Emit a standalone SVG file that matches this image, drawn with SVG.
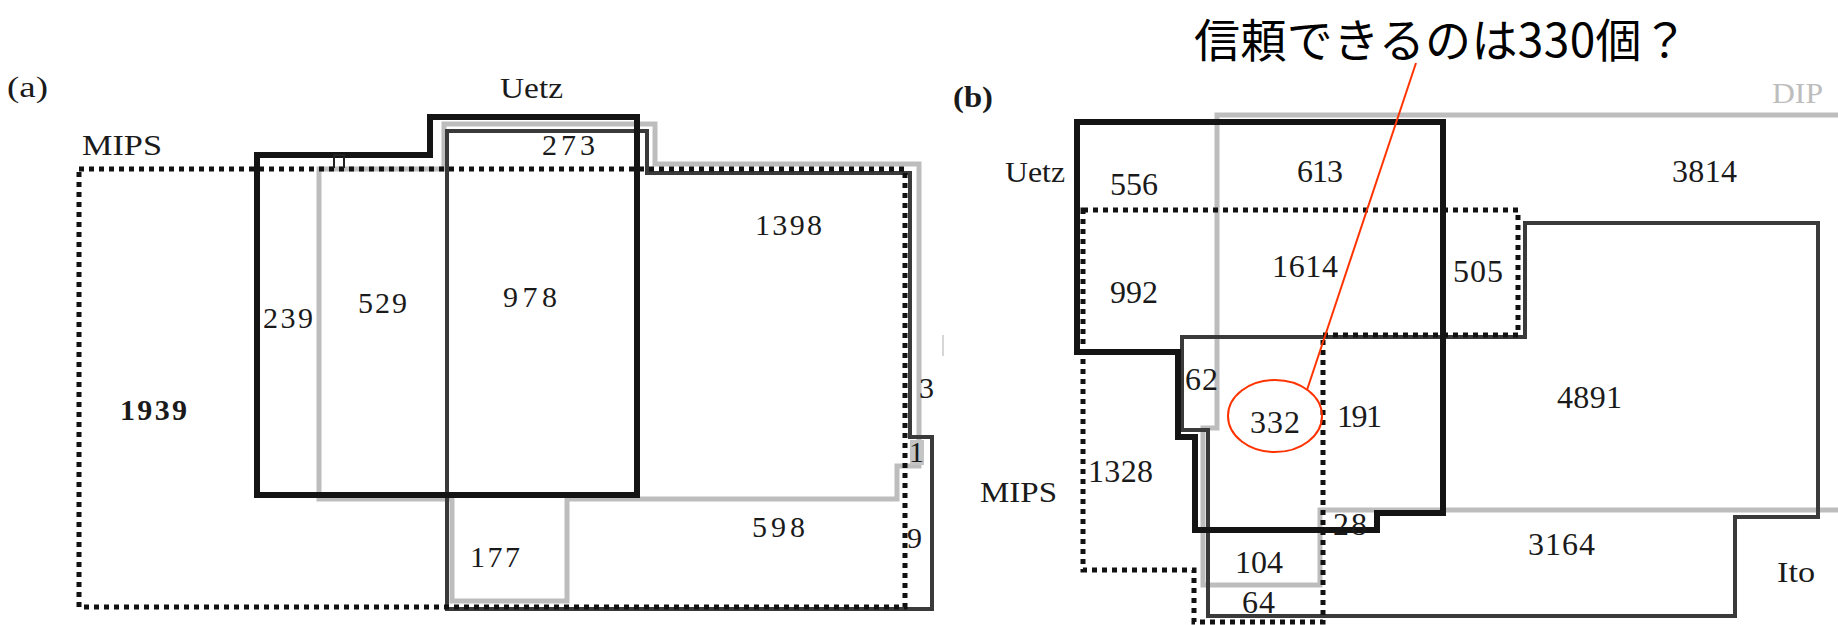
<svg xmlns="http://www.w3.org/2000/svg" width="1838" height="625" viewBox="0 0 1838 625">
<style>
.bg{fill:#fff}
.set{fill:none;stroke-linejoin:miter}
.dip{stroke:#bdbdbd;stroke-width:5}
.ito{stroke:#3a3a3a;stroke-width:4}
.mips{stroke:#111;stroke-width:5;stroke-dasharray:5 5}
.uetz{stroke:#141414;stroke-width:6}
.num{font-family:"Liberation Serif","Times New Roman",serif;font-size:30px;fill:#1a1a1a}
.numb{font-family:"Liberation Serif","Times New Roman",serif;font-size:32px;fill:#1a1a1a}
.lbl{font-family:"Liberation Serif","Times New Roman",serif;font-size:30px;fill:#1a1a1a}
.red{fill:none;stroke:#ff3300;stroke-width:2}
.jp{font-family:"Noto Sans CJK JP","Noto Sans",sans-serif;font-size:46px;fill:#000}
</style>
<rect class="bg" x="0" y="0" width="1838" height="625"/>

<!-- Panel (a) -->
<g id="panel-a">
  <text class="lbl" x="7" y="97" font-size="26" textLength="41" lengthAdjust="spacingAndGlyphs">(a)</text>
  <g id="a-dip">
    <path class="set dip" d="M319,169 H444 V124 H655 V164 H919 V466 H897 V499 H567 V601 H452 V499 H319 Z"/>
    <rect x="910" y="440" width="14" height="25" fill="#c4c4c4"/>
    <line x1="943" y1="335" x2="943" y2="356" stroke="#c8c8c8" stroke-width="1.5"/>
  </g>
  <g id="a-ito">
    <path class="set ito" d="M447,131 H647 V173 H910 V437 H932 V609 H447 Z"/>
  </g>
  <g id="a-mips">
    <path class="set mips" d="M79,169 H905 V607 H79 Z"/>
    <text class="lbl" x="82" y="155" textLength="80" lengthAdjust="spacingAndGlyphs">MIPS</text>
  </g>
  <g id="a-uetz">
    <path class="set uetz" d="M257,155 H430 V117 H637 V495 H257 Z"/>
    <path d="M334,168 V155 H344 V168" fill="none" stroke="#222" stroke-width="2"/>
    <text class="lbl" x="500" y="98" font-size="32" textLength="63" lengthAdjust="spacingAndGlyphs">Uetz</text>
  </g>
  <g id="a-labels">
    <text class="num" x="542" y="155" textLength="53" lengthAdjust="spacing">273</text>
    <text class="num" x="755" y="235" textLength="67" lengthAdjust="spacing">1398</text>
    <text class="num" x="503" y="307" textLength="54" lengthAdjust="spacing">978</text>
    <text class="num" x="263" y="328" textLength="50" lengthAdjust="spacing">239</text>
    <text class="num" x="358" y="313" textLength="49" lengthAdjust="spacing">529</text>
    <text class="num" x="120" y="420" textLength="67" lengthAdjust="spacing" font-weight="bold">1939</text>
    <text class="num" x="470" y="567" textLength="50" lengthAdjust="spacing">177</text>
    <text class="num" x="752" y="537" textLength="53" lengthAdjust="spacing">598</text>
    <text class="num" x="919" y="398" font-size="26">3</text>
    <text class="num" x="909" y="462" font-size="26">1</text>
    <text class="num" x="907" y="548" font-size="26">9</text>
  </g>
</g>

<!-- Panel (b) -->
<g id="panel-b">
  <text class="lbl" x="953" y="107" font-size="26" font-weight="bold" textLength="40" lengthAdjust="spacingAndGlyphs">(b)</text>
  <g id="b-dip">
    <path class="set dip" d="M1838,115 H1217 V428 H1203 V585 H1320 V510 H1838"/>
    <text class="lbl" x="1772" y="103" font-size="24" fill="#bdbdbd" style="fill:#bdbdbd" textLength="51" lengthAdjust="spacingAndGlyphs">DIP</text>
  </g>
  <g id="b-ito">
    <path class="set ito" d="M1525,223 H1818 V517 H1735 V616 H1208 V430 H1182 V337 H1525 Z"/>
    <text class="lbl" x="1777" y="582" textLength="38" lengthAdjust="spacingAndGlyphs">Ito</text>
  </g>
  <g id="b-mips">
    <path class="set mips" d="M1083,210 H1518 V335 H1323 V622 H1194 V570 H1083 Z"/>
    <text class="lbl" x="980" y="502" textLength="77" lengthAdjust="spacingAndGlyphs">MIPS</text>
  </g>
  <g id="b-uetz">
    <path class="set uetz" d="M1077,122 H1443 V513 H1377 V530 H1195 V437 H1178 V352 H1077 Z"/>
    <text class="lbl" x="1005" y="182" textLength="60" lengthAdjust="spacingAndGlyphs">Uetz</text>
  </g>
  <g id="b-labels">
    <text class="numb" x="1110" y="195" textLength="48" lengthAdjust="spacing">556</text>
    <text class="numb" x="1297" y="182" textLength="46" lengthAdjust="spacing">613</text>
    <text class="numb" x="1110" y="303" textLength="48" lengthAdjust="spacing">992</text>
    <text class="numb" x="1272" y="277" textLength="66" lengthAdjust="spacing">1614</text>
    <text class="numb" x="1672" y="182" textLength="65" lengthAdjust="spacing">3814</text>
    <text class="numb" x="1453" y="282" textLength="50" lengthAdjust="spacing">505</text>
    <text class="numb" x="1557" y="408" textLength="65" lengthAdjust="spacing">4891</text>
    <text class="numb" x="1528" y="555" textLength="67" lengthAdjust="spacing">3164</text>
    <text class="numb" x="1185" y="390" textLength="33" lengthAdjust="spacing">62</text>
    <text class="numb" x="1250" y="433" textLength="50" lengthAdjust="spacing">332</text>
    <text class="numb" x="1337" y="427" textLength="45" lengthAdjust="spacing" font-size="34">191</text>
    <text class="numb" x="1088" y="482" textLength="65" lengthAdjust="spacing">1328</text>
    <text class="numb" x="1333" y="535" textLength="34" lengthAdjust="spacing">28</text>
    <text class="numb" x="1235" y="573" textLength="48" lengthAdjust="spacing">104</text>
    <text class="numb" x="1242" y="613" textLength="33" lengthAdjust="spacing">64</text>
  </g>
</g>

<!-- Annotation -->
<g id="callout">
  <ellipse class="red" cx="1275" cy="416" rx="47" ry="36"/>
  <text class="jp" x="1194" y="57" textLength="494" lengthAdjust="spacing">信頼できるのは330個？</text>
</g>
<g id="connectors">
  <line class="red" x1="1416" y1="63" x2="1307" y2="390"/>
</g>
</svg>
